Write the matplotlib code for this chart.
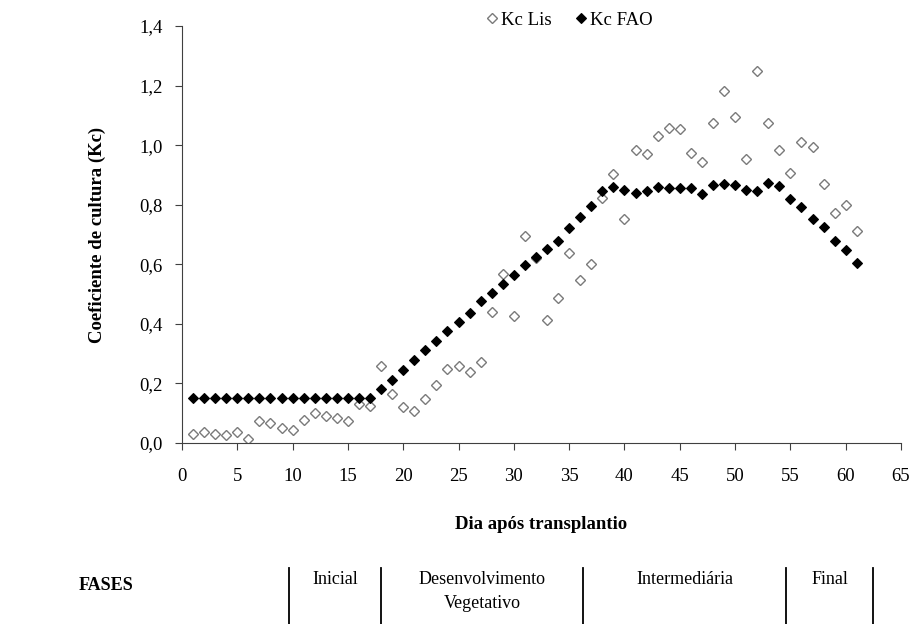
import numpy as np
import matplotlib.pyplot as plt
from matplotlib.lines import Line2D
from matplotlib.ticker import FuncFormatter

# dados
dias = list(range(1, 62))
kc_lis = [0.030, 0.036, 0.030, 0.027, 0.036, 0.013, 0.074, 0.066, 0.049, 0.044,
          0.077, 0.100, 0.091, 0.083, 0.073, 0.130, 0.125, 0.258, 0.164, 0.122,
          0.108, 0.148, 0.195, 0.250, 0.260, 0.240, 0.273, 0.441, 0.566, 0.425,
          0.695, 0.620, 0.413, 0.488, 0.637, 0.547, 0.600, 0.821, 0.902, 0.751,
          0.985, 0.970, 1.032, 1.056, 1.053, 0.972, 0.942, 1.073, 1.182, 1.093,
          0.952, 1.250, 1.075, 0.984, 0.907, 1.009, 0.993, 0.870, 0.773, 0.799,
          0.712]
kc_fao = [0.15] * 17 + [
          0.180, 0.212, 0.245, 0.279, 0.311, 0.342, 0.375, 0.406, 0.437, 0.476,
          0.505, 0.535, 0.564, 0.598, 0.623, 0.650, 0.679, 0.721, 0.758, 0.795,
          0.845, 0.859, 0.848, 0.839, 0.846, 0.861, 0.856, 0.855, 0.857, 0.836,
          0.866, 0.868, 0.866, 0.849, 0.846, 0.872, 0.863, 0.819, 0.794, 0.751,
          0.724, 0.679, 0.648, 0.603]
fases = ['Inicial', 'Desenvolvimento\nVegetativo', 'Intermediária', 'Final']

plt.rcParams['font.family'] = ['Liberation Serif', 'DejaVu Serif']

W, H = 913, 624
fig = plt.figure(figsize=(W / 100, H / 100), dpi=100)
ax = fig.add_axes([182 / W, 1 - 443 / H, 719 / W, 417 / H])

ax.plot(dias, kc_lis, ls='none', marker='D', ms=5.6, mfc='white',
        mec='#7a7a7a', mew=1.0, label='Kc Lis')
ax.plot(dias, kc_fao, ls='none', marker='D', ms=5.6, mfc='black',
        mec='black', mew=0.8, label='Kc FAO')

ax.set_xlim(0, 65)
ax.set_ylim(0, 1.4)
ax.set_xticks(np.arange(0, 66, 5))
ax.set_yticks(np.arange(0, 1.41, 0.2))
ax.yaxis.set_major_formatter(FuncFormatter(lambda v, p: f'{v:.1f}'.replace('.', ',')))
for s in ['top', 'right']:
    ax.spines[s].set_visible(False)
for s in ['left', 'bottom']:
    ax.spines[s].set_color('#404040')
ax.tick_params(axis='both', direction='out', length=5, color='#404040',
               labelsize=13.5)
ax.tick_params(axis='x', pad=13)
ax.tick_params(axis='y', pad=9)

ax.set_xlabel('Dia após transplantio', fontsize=13.5, fontweight='bold', labelpad=22)
ax.set_ylabel('Coeficiente de cultura (Kc)', fontsize=13.5, fontweight='bold',
              labelpad=24)

ax.legend(loc='center', bbox_to_anchor=(570 / W, 1 - 20 / H),
          bbox_transform=fig.transFigure, ncol=2, frameon=False,
          handlelength=0.5, handletextpad=0.25, columnspacing=1.3,
          fontsize=13.5, markerscale=0.9)

# tabela de fases
fig.text(106 / W, 1 - 585 / H, 'FASES', ha='center', va='center',
         fontsize=13, fontweight='bold')
linhas = [289, 381, 583, 786, 873]
for xl in linhas:
    fig.add_artist(Line2D([xl / W, xl / W], [1 - 568 / H, 0], color='black', lw=1.3))
for i, nome in enumerate(fases):
    xc = (linhas[i] + linhas[i + 1]) / 2
    fig.text(xc / W, 1 - 571 / H, nome, ha='center', va='top', fontsize=13,
             linespacing=1.55)

fig.savefig('out.png', dpi=100)
